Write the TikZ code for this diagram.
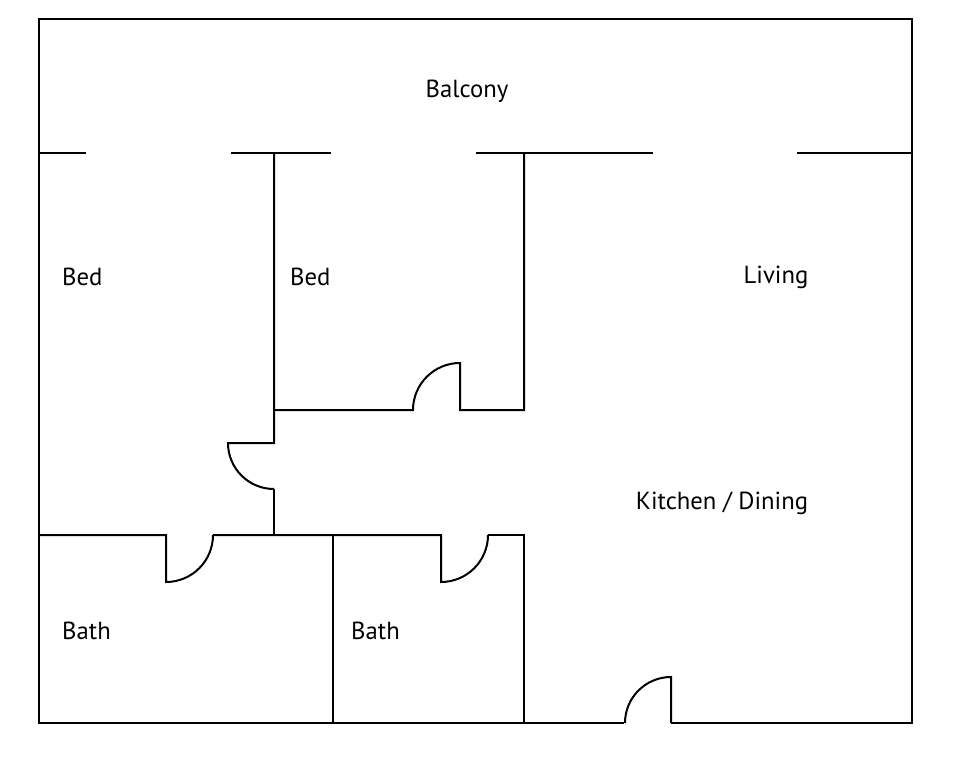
\documentclass[tikz,border=0pt]{standalone}
\usepackage{fontspec}
\setmainfont{PT Sans}
\begin{document}
\begin{tikzpicture}[x=1pt,y=-1pt,wall/.style={line width=2pt,black},lbl/.style={font=\fontsize{24.7}{28}\selectfont,inner sep=0pt}]
\useasboundingbox (0,0) rectangle (960,767);
% outer
\draw[wall] (624,723) -- (39,723) -- (39,19) -- (912,19) -- (912,723) -- (671,723);
% balcony line
\draw[wall] (39,153) -- (86,153);
\draw[wall] (231,153) -- (331,153);
\draw[wall] (476,153) -- (653,153);
\draw[wall] (797,153) -- (912,153);
% bed2 walls
\draw[wall] (274,153) -- (274,443) -- (228,443) arc[start angle=180,end angle=90,radius=46];
\draw[wall] (274,489) -- (274,535);
\draw[wall] (274,410) -- (413,410) arc[start angle=180,end angle=270,radius=47] -- (460,410) -- (524,410) -- (524,153);
% bath row
\draw[wall] (39,535) -- (166,535) -- (166,582) arc[start angle=90,end angle=0,radius=47];
\draw[wall] (213,535) -- (441,535) -- (441,582) arc[start angle=90,end angle=0,radius=47];
\draw[wall] (488,535) -- (524,535) -- (524,723);
\draw[wall] (333,535) -- (333,723);
% bottom door
\draw[wall] (671,723) -- (671,677) arc[start angle=270,end angle=180,radius=46];
% labels
\node[lbl] (balcony) at (467,91) {Balcony};
\node[lbl,anchor=west] (bed1) at (62,277) {Bed};
\node[lbl,anchor=west] (bed2) at (290,277) {Bed};
\node[lbl] (living) at (776,277) {Living};
\node[lbl] (kitchen) at (722,503) {Kitchen / Dining};
\node[lbl,anchor=west] (bath1) at (62,631) {Bath};
\node[lbl,anchor=west] (bath2) at (351,631) {Bath};
\end{tikzpicture}
\end{document}
